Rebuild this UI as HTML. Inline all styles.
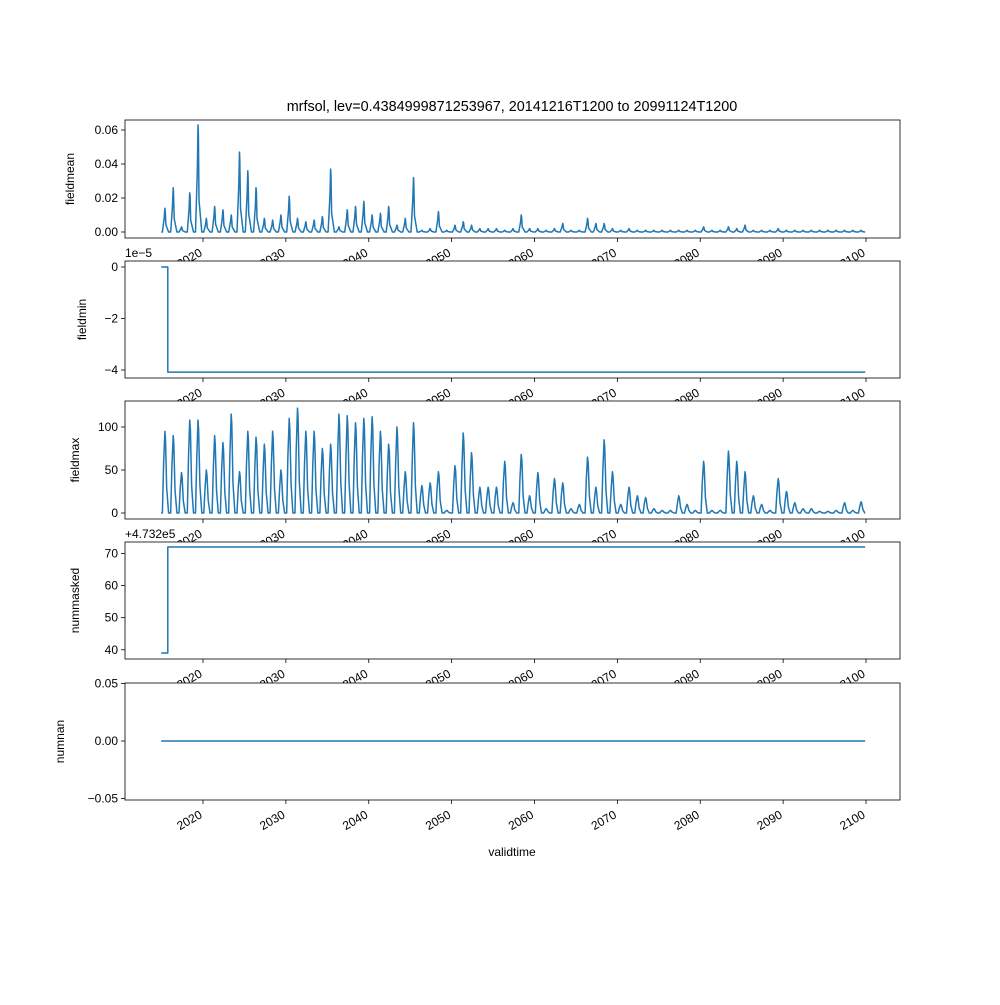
<!DOCTYPE html>
<html><head><meta charset="utf-8"><style>
body{margin:0;background:#fff}
svg text{font-family:"Liberation Sans","DejaVu Sans",sans-serif;font-size:12px;fill:#000}
</style></head><body>
<svg id="c" width="1000" height="1000" xmlns="http://www.w3.org/2000/svg"></svg>
<script>
const years=[];for(let y=2015;y<=2099;y++)years.push(y);
const meanPeaks=[0.014,0.026,0.003,0.023,0.063,0.008,0.015,0.013,0.010,0.047,0.036,0.026,0.008,0.007,0.010,0.021,0.008,0.006,0.007,0.009,0.037,0.003,0.013,0.015,0.018,0.010,0.011,0.015,0.004,0.008,0.032,0.001,0.002,0.012,0.001,0.004,0.006,0.004,0.002,0.002,0.002,0.001,0.002,0.010,0.002,0.002,0.001,0.002,0.005,0.001,0.001,0.008,0.005,0.005,0.002,0.001,0.002,0.001,0.001,0.001,0.001,0.001,0.001,0.001,0.001,0.003,0.001,0.001,0.003,0.002,0.004,0.001,0.001,0.001,0.002,0.001,0.001,0.001,0.001,0.001,0.001,0.001,0.001,0.001,0.001];
const maxPeaks=[95,90,47,108,108,50,90,82,115,48,95,88,80,95,50,110,122,95,95,75,80,115,113,105,110,112,95,80,100,48,105,32,35,48,3,55,93,70,30,30,30,60,12,68,20,47,5,40,35,5,10,65,30,85,48,10,30,20,18,5,3,3,20,10,3,60,3,3,72,60,48,20,10,3,40,25,12,5,5,2,2,3,12,3,13];
const minLevels=[0,-4.08];const minStepYear=2015.75;
const maskLevels=[39,72];
const xTicks=[2020,2030,2040,2050,2060,2070,2080,2090,2100];
const t0=2014.96,t1=2099.9;
const X=t=>203+(t-2020)*8.2875;
const svg=document.getElementById('c');const NS='http://www.w3.org/2000/svg';
function el(tag,attrs,parent){const e=document.createElementNS(NS,tag);for(const k in attrs)e.setAttribute(k,attrs[k]);(parent||svg).appendChild(e);return e;}
const panels=[
 {name:'fieldmean',top:120,bot:238,Y:v=>232-v*1700,ticks:[0,0.02,0.04,0.06],fmt:v=>v.toFixed(2)},
 {name:'fieldmin',top:261,bot:378,Y:v=>267-v*25.75,ticks:[0,-2,-4],fmt:v=>v===0?'0':'\u2212'+Math.abs(v)},
 {name:'fieldmax',top:401,bot:519,Y:v=>513-v*0.86,ticks:[0,50,100],fmt:v=>''+v},
 {name:'nummasked',top:542,bot:659,Y:v=>547-(v-72)*(106/33),ticks:[40,50,60,70],fmt:v=>''+v},
 {name:'numnan',top:683,bot:800,Y:v=>741-v*1150,ticks:[-0.05,0,0.05],fmt:v=>(v<0?'\u2212':'')+Math.abs(v).toFixed(2)}
];
function spikes(peaks,w){const pts=[[t0,0]];peaks.forEach((p,i)=>{const y=years[i];pts.push([y+0.1,0],[y+0.4-w,p*0.6],[y+0.4,p],[y+0.4+w*0.5,p*0.9],[y+0.4+w*1.5,p*0.3],[y+0.85,0]);});pts.push([t1,0]);return pts;}
panels.forEach((P,pi)=>{
 const g=el('g',{});
 
 el('rect',{x:125,y:P.top,width:775,height:P.bot-P.top,fill:'#fff',stroke:'none'},g);
 let pts;
 if(pi===0)pts=spikes(meanPeaks,0.08);
 else if(pi===2)pts=spikes(maxPeaks,0.15);
 else if(pi===1)pts=[[t0,minLevels[0]],[minStepYear,minLevels[0]],[minStepYear,minLevels[1]],[t1,minLevels[1]]];
 else if(pi===3)pts=[[t0,maskLevels[0]],[minStepYear,maskLevels[0]],[minStepYear,maskLevels[1]],[t1,maskLevels[1]]];
 else pts=[[t0,0],[t1,0]];
 const line=el('polyline',{points:pts.map(p=>X(p[0]).toFixed(1)+','+P.Y(p[1]).toFixed(1)).join(' '),fill:'none',stroke:'#1f77b4','stroke-width':1.5,'stroke-linejoin':'round'},g);
 
 el('rect',{x:125,y:P.top,width:775,height:P.bot-P.top,fill:'none',stroke:'#000','stroke-width':0.8},g);
 P.ticks.forEach(v=>{const y=P.Y(v);el('line',{x1:121,x2:125,y1:y,y2:y,stroke:'#000','stroke-width':0.8},g);
  const t=el('text',{x:118,y:y+4,'text-anchor':'end'},g);t.textContent=P.fmt(v);
  });
 xTicks.forEach(v=>{const x=X(v);el('line',{x1:x,x2:x,y1:P.bot,y2:P.bot+4,stroke:'#000','stroke-width':0.8},g);
  const t=el('text',{x:x,y:P.bot+17,'text-anchor':'end',transform:`rotate(-30 ${x} ${P.bot+17})`},g);t.textContent=v;
  });
 const yl=el('text',{x:0,y:0,'text-anchor':'middle',transform:`translate(${pi===0?74:pi===1?86:pi===2?79:pi===3?79:64},${(P.top+P.bot)/2}) rotate(-90)`},g);
 yl.textContent=P.name;
});
let t=el('text',{x:125,y:257});t.textContent='1e\u22125';
t=el('text',{x:125,y:538});t.textContent='+4.732e5';
t=el('text',{x:512,y:111,'text-anchor':'middle',style:'font-size:14.4px'});t.textContent='mrfsol, lev=0.4384999871253967, 20141216T1200 to 20991124T1200';

t=el('text',{x:512,y:856,'text-anchor':'middle'});t.textContent='validtime';

</script>
</body></html>
